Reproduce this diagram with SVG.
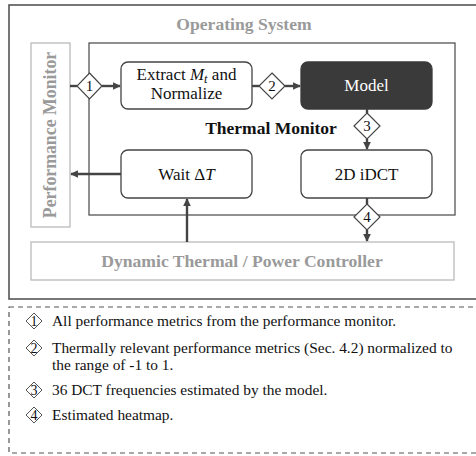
<svg xmlns="http://www.w3.org/2000/svg" width="476" height="456" viewBox="0 0 476 456" font-family="'Liberation Serif', 'Times New Roman', serif">
  <defs>
    <marker id="arrow" viewBox="0 0 10 10" refX="9" refY="5" markerWidth="3.2" markerHeight="3.2" orient="auto">
      <path d="M0,0 L10,5 L0,10 Z" fill="#444"/>
    </marker>
  </defs>
  <style>
    text { font-family: "Liberation Serif", "Times New Roman", serif; }
    .os { fill: none; stroke: #555; stroke-width: 1.6; }
    .light { fill: #fff; stroke: #bbb; stroke-width: 1.3; }
    .frame { fill: none; stroke: #555; stroke-width: 1.3; }
    .node { fill: #fff; stroke: #444; stroke-width: 1.3; }
    .dark { fill: #3a3a3a; stroke: #3a3a3a; stroke-width: 1.3; }
    .label { font-size: 17px; fill: #111; text-anchor: middle; }
    .gray { font-size: 17.6px; font-weight: bold; fill: #9a9a9a; text-anchor: middle; }
    .title { font-size: 17.5px; font-weight: bold; fill: #111; text-anchor: middle; }
    .wire { fill: none; stroke: #444; stroke-width: 2.4; }
    .dia { fill: #fff; stroke: #444; stroke-width: 1.2; }
    .num { font-size: 15px; fill: #111; text-anchor: middle; }
    .legend { font-size: 15.4px; fill: #111; }
    .ldia { fill: #fff; stroke: #555; stroke-width: 1; }
    .lnum { font-size: 14px; fill: #111; text-anchor: middle; }
  </style>

  <!-- operating system frame -->
  <g id="operating-system">
    <rect class="os" x="9" y="5" width="480" height="294"/>
    <text class="gray" x="244" y="30">Operating System</text>
  </g>

  <!-- performance monitor -->
  <g id="performance-monitor">
    <rect class="light" x="31" y="43" width="39" height="184"/>
    <text class="gray" transform="translate(56,135) rotate(-90)" x="0" y="0" style="font-size:17.8px">Performance Monitor</text>
  </g>

  <!-- thermal monitor frame -->
  <g id="thermal-monitor">
    <rect class="frame" x="89" y="43" width="366" height="172"/>
    <text class="title" x="271" y="134">Thermal Monitor</text>
  </g>

  <!-- dynamic thermal / power controller -->
  <g id="dtpc">
    <rect class="light" x="31" y="242" width="423" height="38"/>
    <text class="gray" x="242" y="267">Dynamic Thermal / Power Controller</text>
  </g>

  <g id="extract">
    <rect class="node" x="121" y="62" width="131" height="47" rx="7"/>
    <text class="label" x="186.5" y="80">Extract <tspan font-style="italic">M</tspan><tspan font-style="italic" font-size="12.5" baseline-shift="-2.5">t</tspan> and</text>
    <text class="label" x="186.5" y="99">Normalize</text>
  </g>

  <g id="model">
    <rect class="dark" x="301" y="62" width="131" height="47" rx="7"/>
    <text class="label" x="366.5" y="91" style="fill:#fff">Model</text>
  </g>

  <g id="wait">
    <rect class="node" x="121" y="150" width="131" height="48" rx="7"/>
    <text class="label" x="186.5" y="180">Wait Δ<tspan font-style="italic">T</tspan></text>
  </g>

  <g id="idct">
    <rect class="node" x="301" y="150" width="131" height="48" rx="7"/>
    <text class="label" x="366.5" y="180">2D iDCT</text>
  </g>

  <!-- connectors -->
  <g id="connectors">
    <line class="wire" x1="70" y1="86" x2="77" y2="86"/>
    <line class="wire" x1="102" y1="86" x2="120" y2="86" marker-end="url(#arrow)"/>
    <line class="wire" x1="252" y1="86" x2="259" y2="86"/>
    <line class="wire" x1="285" y1="86" x2="300" y2="86" marker-end="url(#arrow)"/>
    <line class="wire" x1="367" y1="109" x2="367" y2="113"/>
    <line class="wire" x1="367" y1="139" x2="367" y2="149" marker-end="url(#arrow)"/>
    <line class="wire" x1="367" y1="198" x2="367" y2="204"/>
    <line class="wire" x1="367" y1="230" x2="367" y2="241" marker-end="url(#arrow)"/>
    <line class="wire" x1="121" y1="174" x2="71" y2="174" marker-end="url(#arrow)"/>
    <line class="wire" x1="187" y1="242" x2="187" y2="199" marker-end="url(#arrow)"/>

    <g id="d1">
      <path class="dia" d="M89.5,73 L102,86 L89.5,99 L77,86 Z"/>
      <text class="num" x="89.5" y="91">1</text>
    </g>
    <g id="d2">
      <path class="dia" d="M272,73 L285,86 L272,99 L259,86 Z"/>
      <text class="num" x="272" y="91">2</text>
    </g>
    <g id="d3">
      <path class="dia" d="M367,113 L380,126 L367,139 L354,126 Z"/>
      <text class="num" x="367" y="131">3</text>
    </g>
    <g id="d4">
      <path class="dia" d="M367,204 L380,217 L367,230 L354,217 Z"/>
      <text class="num" x="367" y="222">4</text>
    </g>
  </g>

  <!-- legend -->
  <g id="legend">
    <rect x="9" y="307" width="480" height="146" fill="none" stroke="#555" stroke-width="1.2" stroke-dasharray="5,4"/>
    <path class="ldia" d="M34,313 L42,321 L34,329 L26,321 Z"/>
    <text class="lnum" x="34" y="326">1</text>
    <text class="legend" x="52" y="326">All performance metrics from the performance monitor.</text>

    <path class="ldia" d="M34,340 L42,348 L34,356 L26,348 Z"/>
    <text class="lnum" x="34" y="353">2</text>
    <text class="legend" x="52" y="353">Thermally relevant performance metrics (Sec. 4.2) normalized to</text>
    <text class="legend" x="52" y="370">the range of -1 to 1.</text>

    <path class="ldia" d="M34,382 L42,390 L34,398 L26,390 Z"/>
    <text class="lnum" x="34" y="395">3</text>
    <text class="legend" x="52" y="395">36 DCT frequencies estimated by the model.</text>

    <path class="ldia" d="M34,407 L42,415 L34,423 L26,415 Z"/>
    <text class="lnum" x="34" y="420">4</text>
    <text class="legend" x="52" y="420">Estimated heatmap.</text>
  </g>
</svg>
